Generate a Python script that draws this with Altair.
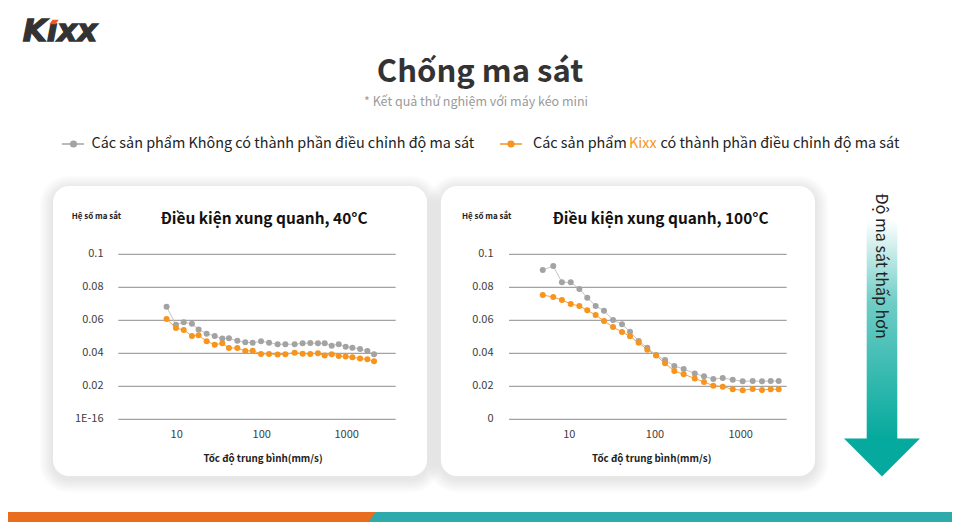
import altair as alt
import pandas as pd

# ---------------- data ----------------
left_speed = [7.6, 9.8, 12.1, 15.1, 18.1, 22.5, 28.0, 34.4, 41.2, 51.7, 64.2, 78.3, 98.2, 122,
              154, 190, 244, 303, 373, 459, 551, 666, 806, 973, 1166, 1436, 1750, 2097]
left_without = [0.0682, 0.0573, 0.0588, 0.0579, 0.0545, 0.0519, 0.0505, 0.0489, 0.0491, 0.0476,
                0.0467, 0.0464, 0.0473, 0.0464, 0.0455, 0.0455, 0.0455, 0.0461, 0.0462, 0.0461,
                0.0461, 0.0446, 0.0455, 0.0440, 0.0434, 0.0426, 0.0414, 0.0394]
left_kixx = [0.0608, 0.0553, 0.0541, 0.0505, 0.0509, 0.0473, 0.0452, 0.0461, 0.0432, 0.0432,
             0.0414, 0.0416, 0.0396, 0.0396, 0.0392, 0.0394, 0.0404, 0.0398, 0.0396, 0.0400,
             0.0386, 0.0394, 0.0384, 0.0380, 0.0376, 0.0368, 0.0364, 0.0352]

right_speed = [4.9, 6.5, 8.2, 10.4, 13.1, 16.2, 20.3, 25.4, 32.4, 41.2, 51.1, 64.5, 81.3, 103,
               131, 168, 216, 291, 373, 479, 617, 807, 1055, 1380, 1773, 2239, 2775]
right_without = [0.0905, 0.0929, 0.0830, 0.0830, 0.0790, 0.0737, 0.0687, 0.0658, 0.0602, 0.0576,
                 0.0531, 0.0475, 0.0434, 0.0390, 0.0359, 0.0323, 0.0305, 0.0277, 0.0261, 0.0244,
                 0.0250, 0.0240, 0.0230, 0.0232, 0.0230, 0.0232, 0.0232]
right_kixx = [0.0753, 0.0741, 0.0723, 0.0699, 0.0687, 0.0661, 0.0632, 0.0596, 0.0559, 0.0529,
              0.0503, 0.0464, 0.0422, 0.0386, 0.0339, 0.0293, 0.0273, 0.0248, 0.0226, 0.0204,
              0.0198, 0.0182, 0.0176, 0.0184, 0.0178, 0.0182, 0.0182]

y_ticks = [0, 0.02, 0.04, 0.06, 0.08, 0.1]
left_y_labels = ["1E-16", "0.02", "0.04", "0.06", "0.08", "0.1"]
right_y_labels = ["0", "0.02", "0.04", "0.06", "0.08", "0.1"]
x_ticks = [10, 100, 1000]
x_tick_labels = ["10", "100", "1000"]

series_names = ["Không", "Kixx"]
point_colors = ["#a3a3a3", "#f7941d"]
line_colors = ["#c4c4c4", "#f7a13f"]

main_title = "Chống ma sát"
subtitle = "* Kết quả thử nghiệm với máy kéo mini"
legend_a = "Các sản phẩm Không có thành phần điều chỉnh độ ma sát"
legend_b1 = "Các sản phẩm"
legend_b2 = "Kixx"
legend_b3 = "có thành phần điều chỉnh độ ma sát"
left_title = "Điều kiện xung quanh, 40°C"
right_title = "Điều kiện xung quanh, 100°C"
y_title = "Hệ số ma sắt"
x_title = "Tốc độ trung bình(mm/s)"
arrow_text = "Độ ma sát thấp hơn"
logo_text = "Kıxx"

# ---------------- layout helpers ----------------
W, H = 944, 514
M = 8
F = "Noto Sans CJK KR"
ORANGE = "#f7941d"
TEAL = "#05a99d"


def P(v):
    return v - M


one = pd.DataFrame({"d": [0]})


def txt(s, x, y, size, color="#333333", weight="normal", align="center", angle=0, font=F,
        style="normal", **extra):
    kw = dict(text=s, font=font, fontSize=size, color=color, fontWeight=weight, align=align,
              baseline="middle", fontStyle=style, **extra)
    if angle:
        kw["angle"] = angle
    return alt.Chart(one).mark_text(**kw).encode(x=alt.value(P(x)), y=alt.value(P(y)))


def rect(x0, y0, x1, y1, **kw):
    return alt.Chart(one).mark_rect(**kw).encode(
        x=alt.value(P(x0)), x2=alt.value(P(x1)), y=alt.value(P(y0)), y2=alt.value(P(y1)))


layers = []

# cards with soft shadow
for (cx0, cx1) in [(53, 427), (441, 815)]:
    for i in range(6, 0, -1):
        e = 2.2 * i
        layers.append(rect(cx0 - e, 186 - e + 3, cx1 + e, 476 + e + 3, color="#000000",
                           opacity=0.014, cornerRadius=16 + e))
    layers.append(rect(cx0, 186, cx1, 476, color="#ffffff", cornerRadius=16))

# header: logo
layers.append(txt(logo_text, 60, 32, 31, color="#333333", weight="bold", font="DejaVu Sans",
                  style="italic", stroke="#333333", strokeWidth=1.3))
layers.append(alt.Chart(one).mark_point(shape="M-1,0.5L-0.3,-0.5L1,-0.5L0.3,0.5Z", size=90,
                                        filled=True, color="#ee5a24", opacity=1,
                                        strokeWidth=0).encode(
    x=alt.value(P(54)), y=alt.value(P(22))))

layers.append(txt(main_title, 480, 73, 31, color="#333333", weight="bold"))
layers.append(txt(subtitle, 476, 102, 12.5, color="#9a9a9a"))

# legend
for (lx, dx, col) in [(62, 73.5, point_colors[0]), (500, 511, ORANGE)]:
    layers.append(alt.Chart(one).mark_rule(color=col, strokeWidth=1.5).encode(
        x=alt.value(P(lx)), x2=alt.value(P(lx + 22)), y=alt.value(P(144))))
    layers.append(alt.Chart(one).mark_circle(color=col, size=50, opacity=1).encode(
        x=alt.value(P(dx)), y=alt.value(P(144))))
layers.append(txt(legend_a, 91.5, 144, 14.4, color="#222222", align="left"))
layers.append(txt(legend_b1, 533, 144, 14.4, color="#222222", align="left"))
layers.append(txt(legend_b2, 629, 144, 14.4, color=ORANGE, align="left"))
layers.append(txt(legend_b3, 660.5, 144, 14.4, color="#222222", align="left"))


# panels
def panel(speed, s_without, s_kixx, ylabels, xr, grid_x0, grid_x1, ylab_x, title_x, ytitle_x,
          xtitle_x, title):
    xs = alt.Scale(type="log", domain=[1, 10000], range=[P(xr[0]), P(xr[1])])
    ys = alt.Scale(domain=[0, 0.1], range=[P(419.3), P(254.3)])
    df = pd.DataFrame({
        "speed": list(speed) + list(speed),
        "cof": list(s_without) + list(s_kixx),
        "series": [series_names[0]] * len(speed) + [series_names[1]] * len(speed),
    })
    gdf = pd.DataFrame({"v": y_ticks, "lab": ylabels})
    xdf = pd.DataFrame({"v": x_ticks, "lab": x_tick_labels})
    out = []
    out.append(alt.Chart(gdf).mark_rule(color="#8c8c8c", strokeWidth=1).encode(
        y=alt.Y("v:Q", scale=ys, axis=None), x=alt.value(P(grid_x0)), x2=alt.value(P(grid_x1))))
    out.append(alt.Chart(gdf).mark_text(align="right", baseline="middle", font=F, fontSize=11,
                                        color="#404040").encode(
        y=alt.Y("v:Q", scale=ys, axis=None), x=alt.value(P(ylab_x)), text="lab:N"))
    out.append(alt.Chart(xdf).mark_text(align="center", baseline="middle", font=F, fontSize=11,
                                        color="#404040").encode(
        x=alt.X("v:Q", scale=xs, axis=None), y=alt.value(P(435)), text="lab:N"))
    out.append(alt.Chart(df).mark_line(strokeWidth=1).encode(
        x=alt.X("speed:Q", scale=xs, axis=None),
        y=alt.Y("cof:Q", scale=ys, axis=None),
        color=alt.Color("series:N", scale=alt.Scale(domain=series_names, range=line_colors),
                        legend=None)))
    out.append(alt.Chart(df).mark_circle(size=36, opacity=1).encode(
        x=alt.X("speed:Q", scale=xs, axis=None),
        y=alt.Y("cof:Q", scale=ys, axis=None),
        color=alt.Color("series:N", scale=alt.Scale(domain=series_names, range=point_colors),
                        legend=None)))
    out.append(txt(title, title_x, 219, 15.4, color="#111111", weight="bold"))
    out.append(txt(y_title, ytitle_x, 217, 8, color="#222222", weight="bold", align="left"))
    out.append(txt(x_title, xtitle_x, 459, 9.8, color="#222222", weight="bold"))
    return out


layers += panel(left_speed, left_without, left_kixx, left_y_labels, (91.7, 431.7), 118.3, 395.7,
                103.5, 264, 71.7, 263, left_title)
layers += panel(right_speed, right_without, right_kixx, right_y_labels, (483.6, 826.4), 509,
                786.7, 493.5, 660.5, 462, 651.7, right_title)

# arrow
grad = alt.LinearGradient(gradient="linear", x1=0, y1=0, x2=0, y2=1,
                          stops=[alt.GradientStop(color="#ffffff", offset=0),
                                 alt.GradientStop(color="#ffffff", offset=0.12),
                                 alt.GradientStop(color="#6fcdc6", offset=0.45),
                                 alt.GradientStop(color=TEAL, offset=1)])
layers.append(rect(866.7, 190, 897.3, 439, fill=grad))
layers.append(alt.Chart(one).mark_point(shape="M-1,-0.5L1,-0.5L0,0.5Z", size=76 * 76,
                                        filled=True, color=TEAL, opacity=1, strokeWidth=0).encode(
    x=alt.value(P(882)), y=alt.value(P(457.5))))
layers.append(txt(arrow_text, 881, 266, 16, color="#222222", angle=90))

# bottom bar (drawn at the lowest visible strip)
layers.append(rect(0, 512, 960, 522, color="#2eaaaa"))
layers.append(rect(0, 512, 368, 522, color="#e96d1f"))
layers.append(alt.Chart(one).mark_point(shape="M-0.8,1L-0.8,-1L0.8,-1Z", size=100, filled=True,
                                        color="#e96d1f", opacity=1, strokeWidth=0).encode(
    x=alt.value(P(372)), y=alt.value(P(517))))

chart = alt.layer(*layers).properties(
    width=W, height=H, autosize=alt.AutoSizeParams(type="none"), padding=0
).resolve_scale(
    x="independent", y="independent", color="independent"
).configure_view(stroke=None)

chart.save("out.html", embed_options={"renderer": "svg", "actions": False})
